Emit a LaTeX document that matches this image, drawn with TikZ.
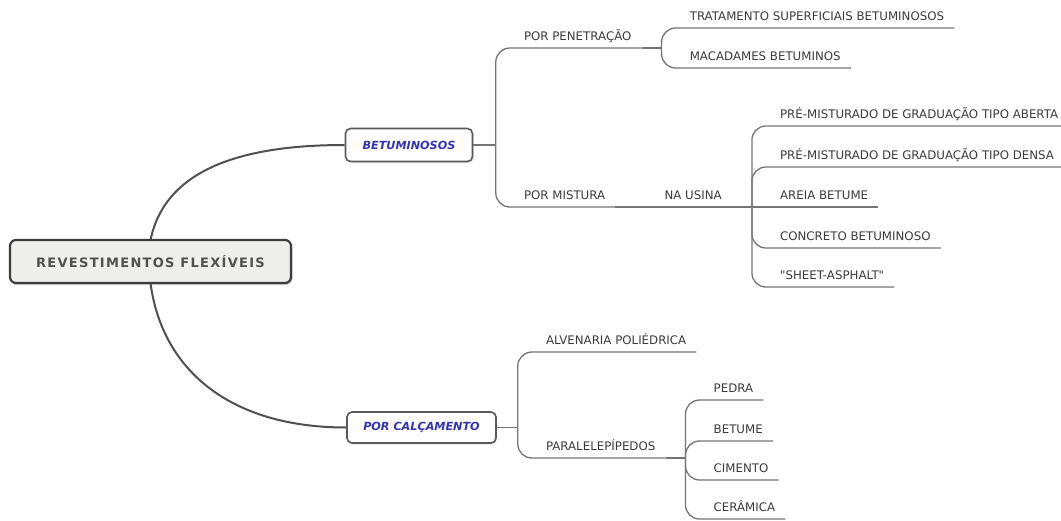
\documentclass[tikz,border=0pt]{standalone}
\usepackage{fontspec}
\setmainfont[Ligatures=TeXOff]{DejaVu Sans}
\newfontfamily\rootfont[LetterSpace=10]{DejaVu Sans}
\usetikzlibrary{calc,shadows}
\definecolor{rootfill}{HTML}{EEEEEB}
\definecolor{rootdraw}{HTML}{3D3D3D}
\definecolor{roottext}{HTML}{505050}
\definecolor{catblue}{HTML}{3333B5}
\definecolor{catdraw}{HTML}{5A5A5A}
\definecolor{linegray}{HTML}{747474}
\definecolor{leafgray}{HTML}{3A3A3A}

\begin{document}
\begin{tikzpicture}[x=1pt,y=-1pt,
    rootbox/.style={draw=rootdraw, fill=rootfill, line width=2.2pt, rounded corners=6pt,
      minimum width=281pt, minimum height=43pt, text=roottext,
      font=\rootfont\bfseries\fontsize{13}{15}\selectfont,
      drop shadow={shadow xshift=1.5pt, shadow yshift=-2pt, opacity=0.35}},
    catbox/.style={draw=catdraw, fill=white, line width=1.6pt, rounded corners=5pt,
      text=catblue, font=\bfseries\itshape\fontsize{11.2}{13}\selectfont,
      drop shadow={shadow xshift=1pt, shadow yshift=-1.5pt, opacity=0.2}},
    leaf/.style={anchor=south west, inner xsep=10pt, inner ysep=0pt,
      text height=9pt, text depth=7pt, text=leafgray,
      font=\fontsize{11.8}{13}\selectfont},
    mainline/.style={draw=rootdraw!90, line width=2pt},
    subline/.style={draw=linegray, line width=1.3pt, rounded corners=14pt}]
  \useasboundingbox (0,0) rectangle (1061,520);

  % main topic and the two categories
  \node[catbox, minimum width=127pt, minimum height=33pt] (bet) at (409,145) {BETUMINOSOS};
  \node[catbox, minimum width=149pt, minimum height=31pt] (cal) at (421.5,427.5) {POR CALÇAMENTO};
  \draw[mainline] (150.5,240) .. controls (165,170) and (240,145) .. (bet.west);
  \draw[mainline] (150.5,283) .. controls (162,370) and (230,427.5) .. (cal.west);
  \node[rootbox] (root) at (150.5,261.5) {REVESTIMENTOS FLEXÍVEIS};

  % betuminosos
  \coordinate (betb) at ([xshift=22.5pt]bet.east);
  \node[leaf] (pen) at ($(betb)+(18,-97)$) {POR PENETRAÇÃO};
  \node[leaf] (mis) at ($(betb)+(18,62)$) {POR MISTURA};
  \draw[subline] (bet.east) -- (betb);
  \draw[subline] (betb) -- (betb |- pen.south west) -- (pen.south east);
  \draw[subline] (betb) -- (betb |- mis.south west) -- (mis.south east);

  \coordinate (penb) at ([xshift=20pt]pen.south east);
  \node[leaf] (tra) at ($(penb)+(18,-20)$) {TRATAMENTO SUPERFICIAIS BETUMINOSOS};
  \node[leaf] (mac) at ($(penb)+(18,20)$) {MACADAMES BETUMINOS};
  \draw[subline] (pen.south east) -- (penb);
  \draw[subline] (penb) -- (penb |- tra.south west) -- (tra.south east);
  \draw[subline] (penb) -- (penb |- mac.south west) -- (mac.south east);

  \node[leaf] (usi) at ($(mis.south east)+(39,0)$) {NA USINA};
  \draw[subline] (mis.south east) -- (usi.south west);

  \coordinate (usib) at ([xshift=20pt]usi.south east);
  \node[leaf] (abe) at ($(usib)+(18,-81)$) {PRÉ-MISTURADO DE GRADUAÇÃO TIPO ABERTA};
  \node[leaf] (den) at ($(usib)+(18,-40)$) {PRÉ-MISTURADO DE GRADUAÇÃO TIPO DENSA};
  \node[leaf] (are) at ($(usib)+(18,0)$) {AREIA BETUME};
  \node[leaf] (con) at ($(usib)+(18,41)$) {CONCRETO BETUMINOSO};
  \node[leaf] (she) at ($(usib)+(18,80)$) {"SHEET-ASPHALT"};
  \draw[subline] (usi.south west) -- (are.south east);
  \draw[subline] (usib) -- (usib |- abe.south west) -- (abe.south east);
  \draw[subline] (usib) -- (usib |- den.south west) -- (den.south east);
  \draw[subline] (usib) -- (usib |- con.south west) -- (con.south east);
  \draw[subline] (usib) -- (usib |- she.south west) -- (she.south east);

  % por calcamento
  \coordinate (calb) at ([xshift=21pt]cal.east);
  \node[leaf] (alv) at ($(calb)+(18,-75.5)$) {ALVENARIA POLIÉDRICA};
  \node[leaf] (par) at ($(calb)+(18,30.5)$) {PARALELEPÍPEDOS};
  \draw[subline] (cal.east) -- (calb);
  \draw[subline] (calb) -- (calb |- alv.south west) -- (alv.south east);
  \draw[subline] (calb) -- (calb |- par.south west) -- (par.south east);

  \coordinate (parb) at ([xshift=20pt]par.south east);
  \node[leaf] (ped) at ($(parb)+(18,-58)$) {PEDRA};
  \node[leaf] (btm) at ($(parb)+(18,-17)$) {BETUME};
  \node[leaf] (cim) at ($(parb)+(18,22)$) {CIMENTO};
  \node[leaf] (cer) at ($(parb)+(18,61)$) {CERÂMICA};
  \draw[subline] (par.south east) -- (parb);
  \draw[subline] (parb) -- (parb |- ped.south west) -- (ped.south east);
  \draw[subline] (parb) -- (parb |- btm.south west) -- (btm.south east);
  \draw[subline] (parb) -- (parb |- cim.south west) -- (cim.south east);
  \draw[subline] (parb) -- (parb |- cer.south west) -- (cer.south east);
\end{tikzpicture}
\end{document}
